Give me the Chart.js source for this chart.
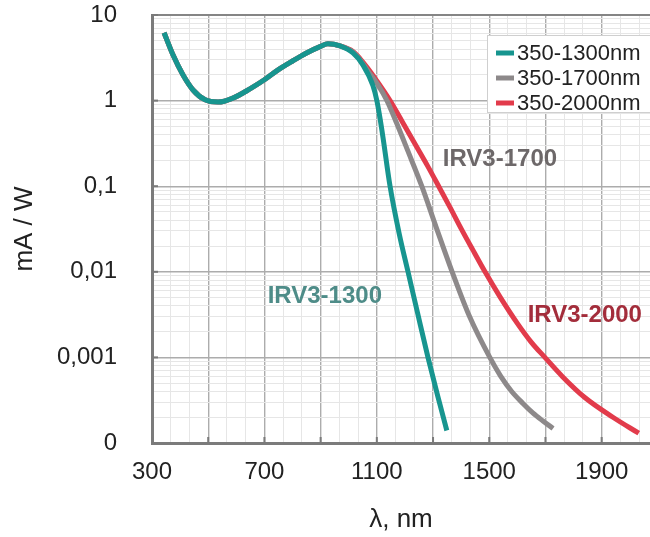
<!DOCTYPE html>
<html><head><meta charset="utf-8">
<script src="https://cdn.jsdelivr.net/npm/chart.js@4.4.1/dist/chart.umd.min.js"></script>
<style>html,body{margin:0;padding:0;background:#fff;}#wrap{width:650px;height:537px;}</style>
</head><body>
<div id="wrap"><canvas id="c" width="650" height="537"></canvas></div>
<script>
// ---- data ----
const seriesNames = ['350-1300nm', '350-1700nm', '350-2000nm'];
const wl1300  = [343, 375, 410, 446, 489, 535, 588, 650, 700, 750, 800, 850, 900, 926, 969, 1015, 1051, 1086, 1100, 1111, 1122, 1147, 1180, 1211, 1245, 1282, 1317, 1349];
const val1300 = [6.2, 3.4, 2.0, 1.33, 1.02, 0.96, 1.07, 1.38, 1.75, 2.3, 2.9, 3.6, 4.3, 4.6, 4.35, 3.6, 2.6, 1.5, 1.0, 0.63, 0.37, 0.1, 0.0275, 0.01, 0.0033, 0.001, 0.00035, 0.00014];
const wl1700  = [343, 375, 410, 446, 489, 535, 588, 650, 700, 750, 800, 850, 900, 926, 969, 1015, 1040, 1065, 1100, 1136, 1170, 1210, 1260, 1310, 1368, 1430, 1502, 1540, 1580, 1620, 1655, 1690, 1727];
const val1700 = [6.2, 3.4, 2.0, 1.33, 1.02, 0.96, 1.07, 1.38, 1.75, 2.3, 2.9, 3.6, 4.3, 4.6, 4.35, 3.7, 3.0, 2.3, 1.6, 1.0, 0.55, 0.26, 0.1, 0.034, 0.01, 0.003, 0.001, 0.00061, 0.0004, 0.00029, 0.000225, 0.000182, 0.000148];
const wl2000  = [343, 375, 410, 446, 489, 535, 588, 650, 700, 750, 800, 850, 900, 926, 969, 1015, 1040, 1065, 1100, 1147, 1190, 1240, 1280, 1320, 1360, 1400, 1440, 1485, 1540, 1600, 1650, 1698, 1760, 1840, 1940, 2032];
const val2000 = [6.2, 3.4, 2.0, 1.33, 1.02, 0.96, 1.07, 1.38, 1.75, 2.3, 2.9, 3.6, 4.3, 4.6, 4.35, 3.75, 3.1, 2.45, 1.7, 1.0, 0.57, 0.295, 0.174, 0.1, 0.057, 0.032, 0.0184, 0.01, 0.005, 0.0025, 0.0015, 0.001, 0.0006, 0.00034, 0.0002, 0.00013];

const xTickValues = [300, 700, 1100, 1500, 1900];
const xTickLabels = ['300', '700', '1100', '1500', '1900'];
const yTickValues = [0.0001, 0.001, 0.01, 0.1, 1, 10];
const yTickLabels = ['0', '0,001', '0,01', '0,1', '1', '10'];

const annTexts = ['IRV3-1300', 'IRV3-1700', 'IRV3-2000'];
const annWl    = [915, 1538, 1840];
const annVal   = [0.0051, 0.208, 0.0031];

const xTitle = 'λ, nm';
const yTitle = 'mA / W';

// ---- styling ----
const colors = ['#17958f', '#8d898a', '#e23b4b'];
const annColors = ['#4e8c88', '#6d6869', '#a32d3b'];
const FONT = '"Liberation Sans", Arial, Helvetica, sans-serif';
const X_MIN = 300, X_MAX = 2072, X_MAJOR = 200, X_SUB = 3;

function toXY(xs, ys) { return xs.map((x, i) => ({x: x, y: ys[i]})); }
function isMajorX(v) { const r = (v - X_MIN) / X_MAJOR; return Math.abs(r - Math.round(r)) < 1e-6; }
function isMajorY(v) { const l = Math.log10(v); return Math.abs(l - Math.round(l)) < 1e-6; }

const frame = {
  id: 'frame',
  afterDatasetsDraw(chart) {
    const {ctx, chartArea: a, scales} = chart;
    ctx.save();
    // top border
    ctx.strokeStyle = '#858585'; ctx.lineWidth = 2;
    ctx.beginPath(); ctx.moveTo(a.left, a.top); ctx.lineTo(a.right, a.top); ctx.stroke();
    // inner tick stubs
    ctx.strokeStyle = '#7a7a7a'; ctx.lineWidth = 2;
    scales.x.ticks.forEach(t => {
      if (!isMajorX(t.value)) return;
      const px = scales.x.getPixelForValue(t.value);
      ctx.beginPath(); ctx.moveTo(px, a.bottom); ctx.lineTo(px, a.bottom - 6); ctx.stroke();
    });
    scales.y.ticks.forEach(t => {
      if (!isMajorY(t.value)) return;
      const py = scales.y.getPixelForValue(t.value);
      ctx.beginPath(); ctx.moveTo(a.left, py); ctx.lineTo(a.left + 6, py); ctx.stroke();
    });
    // annotations
    ctx.font = 'bold 24px ' + FONT;
    ctx.textAlign = 'center'; ctx.textBaseline = 'middle';
    annTexts.forEach((s, i) => {
      ctx.fillStyle = annColors[i];
      ctx.fillText(s, scales.x.getPixelForValue(annWl[i]), scales.y.getPixelForValue(annVal[i]));
    });
    // legend
    const lx = a.right - 163, ly = a.top + 20, lw = 200, lh = 77;
    ctx.fillStyle = '#ffffff'; ctx.fillRect(lx, ly, lw, lh);
    ctx.strokeStyle = '#cfcfcf'; ctx.lineWidth = 1;
    ctx.strokeRect(lx + 0.5, ly + 0.5, lw, lh);
    ctx.font = '22px ' + FONT; ctx.textAlign = 'left'; ctx.textBaseline = 'middle';
    chart.data.datasets.forEach((ds, i) => {
      const cy = ly + 18 + i * 25;
      ctx.strokeStyle = ds.borderColor; ctx.lineWidth = 5;
      ctx.beginPath(); ctx.moveTo(lx + 9, cy); ctx.lineTo(lx + 27, cy); ctx.stroke();
      ctx.fillStyle = '#222'; ctx.fillText(ds.label, lx + 30, cy + 1);
    });
    ctx.restore();
  }
};

new Chart(document.getElementById('c'), {
  type: 'line',
  data: {
    datasets: [
      {label: seriesNames[0], data: toXY(wl1300, val1300), borderColor: colors[0]},
      {label: seriesNames[1], data: toXY(wl1700, val1700), borderColor: colors[1]},
      {label: seriesNames[2], data: toXY(wl2000, val2000), borderColor: colors[2]}
    ].map(d => Object.assign(d, {borderWidth: 5, pointRadius: 0, fill: false, cubicInterpolationMode: 'monotone', borderCapStyle: 'butt'}))
  },
  options: {
    responsive: false, animation: false, devicePixelRatio: 1,
    layout: {padding: {top: 15, right: 0, left: 0, bottom: 0}},
    plugins: {legend: {display: false}, tooltip: {enabled: false}},
    scales: {
      x: {
        type: 'linear', min: X_MIN, max: X_MAX,
        afterBuildTicks(scale) {
          const t = [];
          for (let k = 0; X_MIN + k * X_MAJOR / X_SUB <= X_MAX; k++) t.push({value: X_MIN + k * X_MAJOR / X_SUB});
          scale.ticks = t;
        },
        afterFit(scale) { scale.height = 94; scale.paddingRight = 0; },
        ticks: {
          autoSkip: false, maxRotation: 0, minRotation: 0, padding: 15, color: '#222',
          font: {family: FONT, size: 24},
          callback(v) { const i = xTickValues.findIndex(x => Math.abs(x - v) < 1e-6); return i >= 0 ? xTickLabels[i] : ''; }
        },
        grid: {drawTicks: false, color: c => (c.tick && isMajorX(c.tick.value)) ? '#acacac' : '#e6e6e6', lineWidth: c => (c.tick && isMajorX(c.tick.value)) ? 1.4 : 1},
        border: {display: true, color: '#7b7b7b', width: 3},
        title: {display: true, text: xTitle, color: '#222', font: {family: FONT, size: 26}, padding: {top: 0, bottom: 2}}
      },
      y: {
        type: 'logarithmic', min: 0.0001, max: 10,
        afterBuildTicks(scale) {
          const t = [];
          for (let e = -4; e < 1; e++) for (let s = 1; s <= 9; s++) t.push({value: s * Math.pow(10, e)});
          t.push({value: 10});
          scale.ticks = t;
        },
        afterFit(scale) { scale.width = 152; scale.paddingTop = 0; scale.paddingBottom = 0; },
        ticks: {
          autoSkip: false, padding: 35, color: '#222',
          font: {family: FONT, size: 24},
          callback(v) { const i = yTickValues.findIndex(y => Math.abs(Math.log10(y) - Math.log10(v)) < 1e-6); return i >= 0 ? yTickLabels[i] : ''; }
        },
        grid: {drawTicks: false, color: c => (c.tick && isMajorY(c.tick.value)) ? '#acacac' : '#e6e6e6', lineWidth: c => (c.tick && isMajorY(c.tick.value)) ? 1.4 : 1},
        border: {display: true, color: '#7b7b7b', width: 3},
        title: {display: true, text: yTitle, color: '#222', font: {family: FONT, size: 26}, padding: {top: 9, bottom: 0}}
      }
    }
  },
  plugins: [frame]
});
</script>
</body></html>
